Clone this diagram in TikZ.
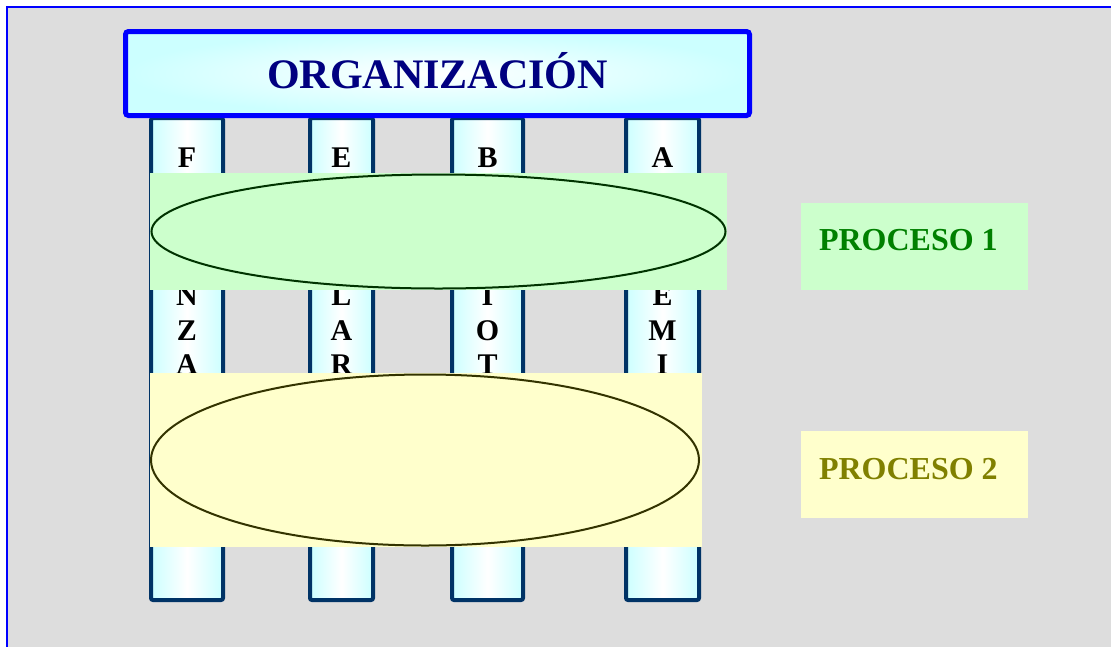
\documentclass[tikz,border=0pt]{standalone}
\usepackage{fontspec}
\setmainfont{Liberation Serif}
\usetikzlibrary{shapes.geometric, positioning, calc}
\definecolor{framegray}{RGB}{221,221,221}
\definecolor{frameblue}{RGB}{0,0,255}
\definecolor{pcyan}{RGB}{204,255,255}
\definecolor{pnavy}{RGB}{0,51,102}
\definecolor{orgnavy}{RGB}{0,0,128}
\definecolor{pgreen}{RGB}{204,255,204}
\definecolor{pgreenline}{RGB}{0,51,0}
\definecolor{pgreentext}{RGB}{0,128,0}
\definecolor{pyellow}{RGB}{255,255,204}
\definecolor{pyellowline}{RGB}{51,51,0}
\definecolor{pyellowtext}{RGB}{128,128,0}

\begin{document}
\begin{tikzpicture}[x=1pt, y=-1pt,
  pillar/.style={draw=pnavy, line width=4pt, rounded corners=2pt, left color=pcyan, right color=pcyan, middle color=white, minimum height=482pt, inner sep=0pt},
  pletter/.style={anchor=base, inner sep=0pt, font=\fontsize{30}{36}\selectfont\bfseries},
  titlebox/.style={draw=frameblue, line width=5pt, rounded corners=3pt, inner color=white, outer color=pcyan, minimum width=624pt, minimum height=84pt},
  band/.style={inner sep=0pt},
  procell/.style={ellipse, line width=2pt, inner sep=0pt},
  procbox/.style={minimum width=227pt, minimum height=87pt, inner sep=0pt},
  proclabel/.style={anchor=base west, inner sep=0pt, font=\fontsize{32}{38}\selectfont\bfseries}]
  \path[use as bounding box, fill=white] (0,0) rectangle (1111,646);
  % frame
  \draw[frameblue, line width=2pt, fill=framegray] (7,7) rectangle (1125,660);
  % pillars
  \node[pillar, minimum width=72pt] (fin) at (187,359) {};
  \node[pillar, minimum width=63pt] (esc) at (341.5,359) {};
  \node[pillar, minimum width=71pt] (bib) at (487.5,359) {};
  \node[pillar, minimum width=73pt] (aca) at (662.5,359) {};
  \foreach \px/\nm/\word in {187/fin/{F,I,N,A,N,Z,A,S}, 341.5/esc/{E,S,C,O,L,A,R}, 487.5/bib/{B,I,B,L,I,O,T,E,C,A}, 662.5/aca/{A,C,A,D,E,M,I,A}}{
    \foreach \l [count=\k] in \word
      \node[pletter] (\nm-\k) at (\px, {167+34.6*(\k-1)}) {\l};
  }
  % title
  \node[titlebox] (org) at (437.5,73.5) {};
  \node[anchor=base, inner sep=0pt, text=orgnavy, font=\fontsize{42}{50}\selectfont\bfseries] (orgtxt) at ([yshift=-15pt]org.center) {ORGANIZACIÓN};
  % process bands
  \node[band, fill=pgreen, minimum width=577pt, minimum height=117pt] (band1) at (438.5,231.5) {};
  \node[procell, fill=pgreen, draw=pgreenline, minimum width=574pt, minimum height=114pt] (ell1) at (band1.center) {};
  \node[band, fill=pyellow, minimum width=552pt, minimum height=174pt] (band2) at (426,460) {};
  \node[procell, fill=pyellow, draw=pyellowline, minimum width=548pt, minimum height=171pt] (ell2) at ([xshift=-1pt]band2.center) {};
  % legend
  \node[procbox, fill=pgreen] (proc1) at (914.5,246) {};
  \node[proclabel, text=pgreentext] (proc1txt) at ([xshift=18pt, yshift=-48.5pt]proc1.north west) {PROCESO 1};
  \node[procbox, fill=pyellow] (proc2) at (914.5,474.5) {};
  \node[proclabel, text=pyellowtext] (proc2txt) at ([xshift=18pt, yshift=-49pt]proc2.north west) {PROCESO 2};
\end{tikzpicture}
\end{document}
